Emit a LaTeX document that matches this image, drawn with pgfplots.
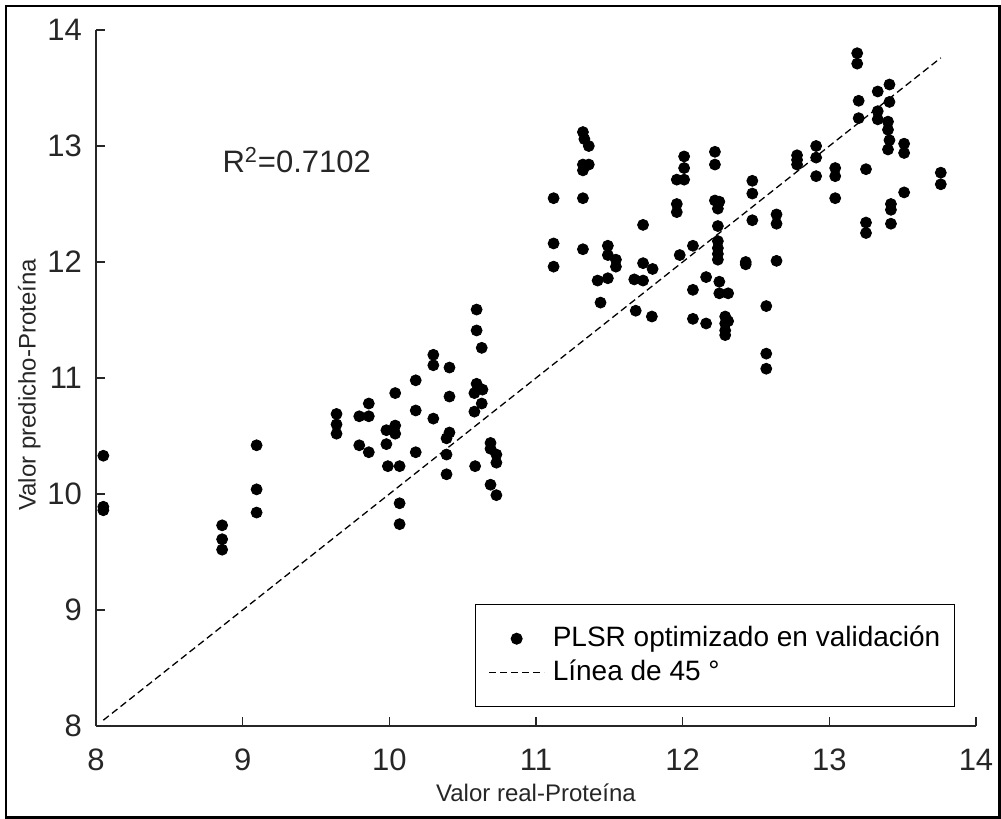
\documentclass[border=0pt]{standalone}
\usepackage{fontspec}
\setmainfont{Liberation Sans}
\usepackage{pgfplots}
\usepackage{pgfplotstable}
\pgfplotsset{compat=1.18}
\definecolor{axgray}{rgb}{0.15,0.15,0.15}

% real vs. predicted protein, validation set
\pgfplotstableread{
x y
8.05 10.33
8.05 9.89
8.05 9.86
8.86 9.73
8.86 9.61
8.86 9.52
9.095 10.42
9.095 10.04
9.095 9.84
9.64 10.69
9.64 10.60
9.64 10.52
9.795 10.67
9.795 10.42
9.86 10.67
9.86 10.78
9.86 10.36
9.98 10.55
9.98 10.43
9.99 10.24
10.04 10.59
10.04 10.52
10.04 10.87
10.07 10.24
10.07 9.92
10.07 9.74
10.18 10.98
10.18 10.72
10.18 10.36
10.30 11.20
10.30 11.11
10.30 10.65
10.41 11.09
10.41 10.84
10.41 10.53
10.39 10.48
10.39 10.34
10.39 10.17
10.595 11.59
10.595 11.41
10.595 10.95
10.63 11.26
10.635 10.90
10.63 10.78
10.58 10.87
10.58 10.71
10.585 10.24
10.69 10.44
10.69 10.39
10.69 10.08
10.73 10.34
10.73 10.27
10.73 9.99
11.12 12.55
11.12 12.16
11.12 11.96
11.32 13.12
11.33 13.06
11.36 13.00
11.32 12.84
11.36 12.84
11.32 12.79
11.32 12.55
11.32 12.11
11.42 11.84
11.44 11.65
11.49 12.14
11.49 12.06
11.49 11.86
11.545 12.02
11.545 11.96
11.67 11.85
11.68 11.58
11.73 12.32
11.73 11.99
11.73 11.84
11.795 11.94
11.79 11.53
12.01 12.91
12.01 12.81
11.96 12.71
12.01 12.71
11.96 12.50
11.96 12.43
11.98 12.06
12.07 12.14
12.07 11.76
12.07 11.51
12.16 11.87
12.16 11.47
12.22 12.95
12.22 12.84
12.22 12.53
12.25 12.52
12.24 12.46
12.24 12.31
12.24 12.18
12.24 12.12
12.24 12.07
12.24 12.02
12.25 11.83
12.25 11.73
12.31 11.73
12.29 11.53
12.31 11.49
12.29 11.47
12.29 11.41
12.29 11.37
12.475 12.70
12.475 12.59
12.475 12.36
12.43 12.00
12.43 11.98
12.64 12.41
12.64 12.33
12.64 12.01
12.57 11.62
12.57 11.21
12.57 11.08
12.78 12.92
12.78 12.88
12.78 12.84
12.91 13.00
12.91 12.90
12.91 12.74
13.04 12.81
13.04 12.74
13.04 12.55
13.19 13.80
13.19 13.71
13.20 13.39
13.20 13.24
13.25 12.80
13.25 12.34
13.25 12.25
13.33 13.47
13.33 13.30
13.33 13.23
13.41 13.53
13.41 13.38
13.40 13.21
13.40 13.14
13.41 13.05
13.40 12.97
13.51 13.02
13.51 12.94
13.51 12.60
13.42 12.50
13.42 12.45
13.42 12.33
13.76 12.77
13.76 12.67
}\validacion

\begin{document}
\begin{tikzpicture}
\useasboundingbox (0,0) rectangle (500.5pt,409.5pt);
\draw[line width=1.25pt] (3pt,0.75pt) rectangle (499.75pt,406.5pt);
\begin{axis}[
  at={(48pt,46.5pt)}, anchor=south west,
  width=440pt, height=348pt, scale only axis,
  xmin=8, xmax=14, ymin=8, ymax=14,
  xtick={8,...,14}, ytick={8,...,14},
  axis lines*=left,
  axis line style={-, axgray, line width=0.6pt},
  tick align=inside,
  major tick length=4.5pt,
  tick style={axgray, line width=0.6pt},
  /pgf/number format/assume math mode=true,
  ticklabel style={font=\fontsize{15.5}{18}\selectfont, text=axgray},
  xticklabel style={yshift=-8pt},
  yticklabel style={xshift=-3.5pt},
  xlabel={Valor real-Proteína},
  ylabel={Valor predicho-Proteína},
  every axis x label/.style={at={(axis description cs:0.5,-0.1088)}, anchor=base,
    font=\fontsize{12}{14}\selectfont, text=axgray},
  every axis y label/.style={at={(axis description cs:-0.0685,0.49)}, anchor=base, rotate=90,
    font=\fontsize{12}{14}\selectfont, text=axgray},
  clip=false,
  legend cell align=left,
  legend style={
    at={(0.976,0.027)}, anchor=south east,
    draw=black, line width=0.5pt, fill=white,
    font=\fontsize{14}{16}\selectfont,
    inner xsep=3pt, inner ysep=10.25pt,
    row sep=3.5pt,
    nodes={inner xsep=4pt, inner ysep=0pt, text height=10.5pt, text depth=3pt},
  },
]
\addplot[only marks, mark=*, mark size=2.75pt, black,
  legend image code/.code={
    \draw[draw=none] (-4pt,0pt) -- (27.5pt,0pt);
    \fill[black] (13.75pt,0pt) circle (2.75pt);
  }] table[x=x, y=y] {\validacion};
\addlegendentry{PLSR optimizado en validación}

\addplot[black, line width=0.65pt, dash pattern=on 3.5pt off 2pt,
  legend image code/.code={
    \draw[draw=none] (-4pt,0pt) -- (27.5pt,0pt);
    \draw[black, line width=0.65pt, dash pattern=on 3.5pt off 2pt] (0pt,0pt) -- (27.5pt,0pt);
  }] coordinates {(8.05,8.05) (13.76,13.76)};
\addlegendentry{Línea de 45 °}

\node[anchor=base west, inner sep=0pt, font=\fontsize{15.5}{18}\selectfont, text=axgray]
  at (axis cs:8.86,12.77) {R\textsuperscript{2}=0.7102};
\end{axis}
\end{tikzpicture}
\end{document}
